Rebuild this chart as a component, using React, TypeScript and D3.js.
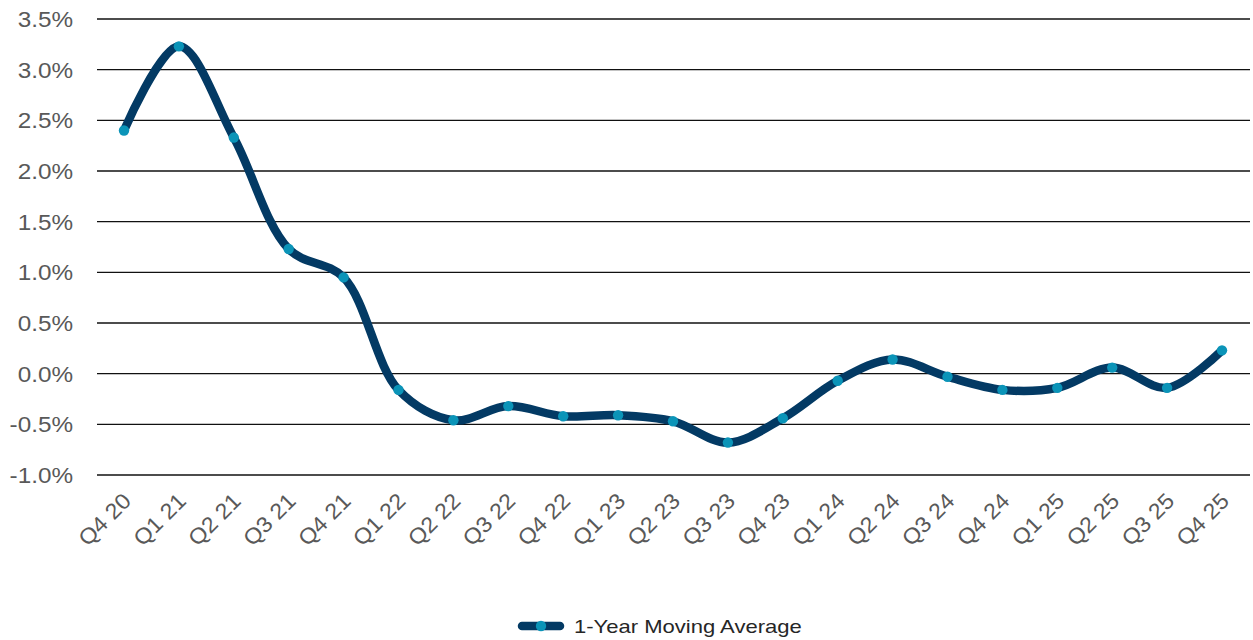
import React from "react";
import * as d3 from "d3";

const categories = ["Q4 20","Q1 21","Q2 21","Q3 21","Q4 21","Q1 22","Q2 22","Q3 22","Q4 22","Q1 23","Q2 23","Q3 23","Q4 23","Q1 24","Q2 24","Q3 24","Q4 24","Q1 25","Q2 25","Q3 25","Q4 25"];
const values = [2.40, 3.23, 2.33, 1.23, 0.95, -0.16, -0.46, -0.32, -0.42, -0.41, -0.47, -0.68, -0.44, -0.07, 0.14, -0.03, -0.16, -0.14, 0.06, -0.14, 0.23];
const yTicks = [-1.0, -0.5, 0.0, 0.5, 1.0, 1.5, 2.0, 2.5, 3.0, 3.5];
const seriesName = "1-Year Moving Average";

const W = 1253, H = 640;
const FONT = "'Liberation Sans', Arial, sans-serif";

export default function App() {
  const x = d3.scalePoint<string>().domain(categories).range([124, 1222]);
  const y = d3.scaleLinear().domain([-1, 3.5]).range([475, 19]);
  const line = d3.line<number>()
    .x((_, i) => x(categories[i])!)
    .y((d) => y(d))
    .curve(d3.curveCatmullRom.alpha(0.5));
  const navy = "#033a64";
  const teal = "#0b94b8";
  const fmt = (t: number) => t.toFixed(1) + "%";
  return (
    <svg width={W} height={H} style={{ position: "absolute", left: 0, top: 0 }}>
      <rect width={W} height={H} fill="#fff" />
      {yTicks.map((t) => (
        <g key={t}>
          <line x1={97} x2={1250} y1={y(t)} y2={y(t)} stroke="#111" strokeWidth={1.3} />
          <text x={0} y={0} dy="0.36em" textAnchor="end" fontFamily={FONT} fontSize={22.5}
            fill="#595959" transform={`translate(73,${y(t)}) scale(1.08,1)`}>
            {fmt(t)}
          </text>
        </g>
      ))}
      {categories.map((c) => (
        <text key={c} transform={`translate(${x(c)! + 3},${497}) rotate(-45) scale(1.06,1)`} textAnchor="end"
          fontFamily={FONT} fontSize={22} fill="#595959" dy="0.35em">
          {c}
        </text>
      ))}
      <path d={line(values)!} fill="none" stroke={navy} strokeWidth={8.5} strokeLinecap="round" strokeLinejoin="round" />
      {values.map((v, i) => (
        <circle key={i} cx={x(categories[i])!} cy={y(v)} r={5.2} fill={teal} />
      ))}
      <g>
        <line x1={522} x2={560} y1={626} y2={626} stroke={navy} strokeWidth={8.5} strokeLinecap="round" />
        <circle cx={541} cy={626} r={5.2} fill={teal} />
        <text x={0} y={0} dy="0.35em" fontFamily={FONT} fontSize={19} fill="#262626"
          transform="translate(574,626) scale(1.16,1)">{seriesName}</text>
      </g>
    </svg>
  );
}
